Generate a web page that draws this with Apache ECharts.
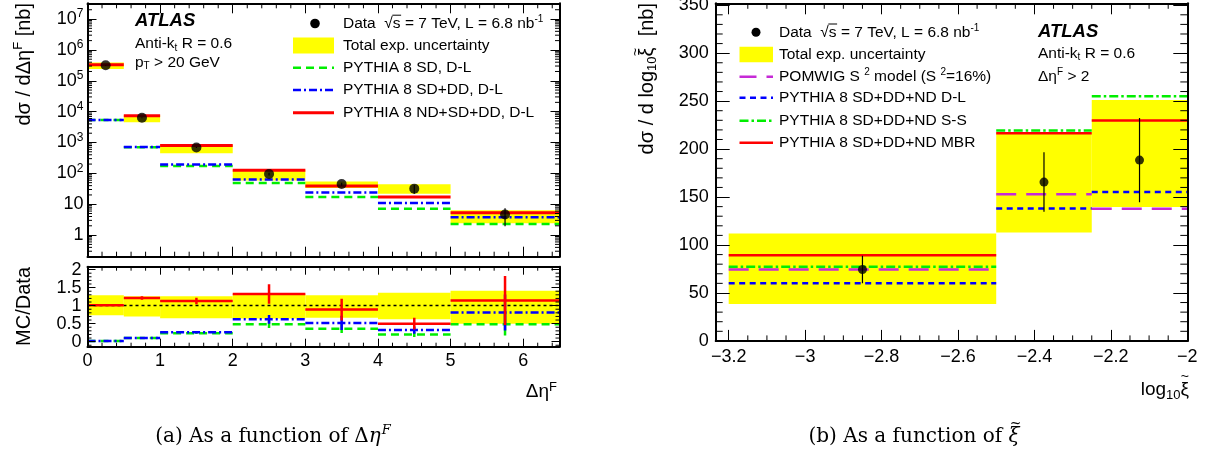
<!DOCTYPE html>
<html>
<head>
<meta charset="utf-8">
<script src="https://cdn.jsdelivr.net/npm/echarts@6/dist/echarts.min.js"></script>
<style>
  html, body { margin: 0; padding: 0; background: #fff; }
  #chart { width: 1210px; height: 457px; }
</style>
</head>
<body>
<div id="chart"></div>
<script>
// ---------- (a) cross section vs forward gap size ----------
const etaEdges     = [0, 0.5, 1, 2, 3, 4, 5, 6.5];
const etaData      = [3.2e5, 6300, 690, 95, 45, 32, 4.65];
const etaDataErr   = [5e3, 200, 30, 10, 5, 10, 2.7];
const etaUncLow    = [2.4e5, 4500, 452, 59, 33.6, 22, 2.4];
const etaUncHigh   = [3.9e5, 7800, 843, 132, 55, 44, 6.4];
const etaSD        = [5400, 700, 172, 49, 17.2, 7.1, 2.3];
const etaSDDD      = [5400, 710, 195, 63, 24, 11, 3.8];
const etaNDSDDD    = [3.3e5, 7400, 800, 125, 39, 17.2, 5.3];

// MC/Data ratio panel
const ratioUncLow   = [0.73, 0.70, 0.65, 0.64, 0.66, 0.62, 0.50];
const ratioUncHigh  = [1.29, 1.26, 1.26, 1.33, 1.29, 1.36, 1.41];
const ratioNDSDDD   = [1.01, 1.21, 1.13, 1.32, 0.89, 0.50, 1.14];
const ratioNDSDDDEr = [0.01, 0.05, 0.09, 0.27, 0.30, 0.16, 0.68];
const ratioSDDD     = [0.02, 0.10, 0.26, 0.62, 0.52, 0.32, 0.81];
const ratioSDDDEr   = [0.00, 0.01, 0.02, 0.12, 0.20, 0.10, 0.50];
const ratioSD       = [0.02, 0.10, 0.23, 0.48, 0.36, 0.20, 0.48];
const ratioSDEr     = [0.00, 0.01, 0.02, 0.10, 0.12, 0.07, 0.31];

// ---------- (b) cross section vs log10 xi ----------
const xiEdges   = [-3.2, -2.5, -2.25, -2];
const xiData    = [74.5, 165.6, 188.5];
const xiDataErr = [14.3, 31, 44];
const xiUncLow  = [38.4, 113, 139.5];
const xiUncHigh = [112.1, 217.2, 251.3];
const xiPomwig  = [74.5, 152.8, 137.8];
const xiDL      = [60.0, 138.1, 155.2];
const xiSS      = [77.2, 219.4, 255.1];
const xiMBR     = [89.4, 216.6, 229.8];

// ---------- tick values ----------
const etaTicks      = [0, 1, 2, 3, 4, 5, 6];
const etaMinor      = [];
for (let i = 0; i <= 32; i++) if (i % 5) etaMinor.push(i * 0.2);
const decadeTicks   = [0, 1, 2, 3, 4, 5, 6, 7];           // log10 of 1 ... 10^7
const decadeMinor   = [];
for (let d = -1; d <= 7; d++) for (let k = 2; k <= 9; k++) {
  const v = d + Math.log10(k);
  if (v > -0.70 && v < 7.51) decadeMinor.push(v);
}
const ratioTicks    = [0, 0.5, 1, 1.5, 2];
const ratioMinor    = [];
for (let i = -1; i <= 20; i++) if (i % 5) ratioMinor.push(i * 0.1);
const xiTicks       = [-3.2, -3, -2.8, -2.6, -2.4, -2.2, -2];
const xiMinor       = [];
for (let i = 0; i <= 24; i++) if (i % 4) xiMinor.push(-3.2 + i * 0.05);
const xsecTicks     = [0, 50, 100, 150, 200, 250, 300, 350];
const xsecMinor     = [];
for (let i = 0; i <= 35; i++) if (i % 5) xsecMinor.push(i * 10);

// ---------- helpers ----------
const FONT = 'Liberation Sans';
const SERIF = 'DejaVu Serif';
const lg = Math.log10;
const YELLOW = '#ffff00', RED = '#ff0000', GREEN = '#00ee00', BLUE = '#0000ff', MAGENTA = '#c62ad6';

// text measuring, used to put accents (tilde, radical bar) over single glyphs
const mctx = document.createElement('canvas').getContext('2d');
function tw(text, size, family, italic) {
  mctx.font = (italic ? 'italic ' : '') + size + 'px "' + (family || FONT) + '"';
  return mctx.measureText(text).width;
}

const binRows = (edges, vals, f) => vals.map((v, i) => [edges[i], edges[i + 1], f ? f(v) : v]);
const boxRows = (edges, lo, hi, f) => lo.map((v, i) => [edges[i], edges[i + 1], f ? f(v) : v, f ? f(hi[i]) : hi[i]]);
const centers = edges => edges.slice(0, -1).map((e, i) => (e + edges[i + 1]) / 2);

function segSeries(xi, yi, rows, style, z) {
  return {
    type: 'custom', xAxisIndex: xi, yAxisIndex: yi, z: z, silent: true, clip: true,
    data: rows, encode: { x: [0, 1], y: 2 },
    renderItem(p, api) {
      const a = api.coord([api.value(0), api.value(2)]);
      const b = api.coord([api.value(1), api.value(2)]);
      return { type: 'line', shape: { x1: a[0], y1: a[1], x2: b[0], y2: b[1] },
               style: Object.assign({ fill: null, lineCap: 'butt' }, style) };
    }
  };
}
function boxSeries(xi, yi, rows, z) {
  return {
    type: 'custom', xAxisIndex: xi, yAxisIndex: yi, z: z, silent: true, clip: true,
    data: rows, encode: { x: [0, 1], y: [2, 3] },
    renderItem(p, api) {
      const a = api.coord([api.value(0), api.value(3)]);
      const b = api.coord([api.value(1), api.value(2)]);
      return { type: 'rect', shape: { x: a[0], y: a[1], width: b[0] - a[0], height: b[1] - a[1] },
               style: { fill: YELLOW } };
    }
  };
}
function errSeries(xi, yi, rows, color, width, z) {
  return {
    type: 'custom', xAxisIndex: xi, yAxisIndex: yi, z: z, silent: true, clip: true,
    data: rows, encode: { x: 0, y: [1, 2] },
    renderItem(p, api) {
      const a = api.coord([api.value(0), api.value(1)]);
      const b = api.coord([api.value(0), api.value(2)]);
      return { type: 'line', shape: { x1: a[0], y1: a[1], x2: b[0], y2: b[1] },
               style: { stroke: color, lineWidth: width } };
    }
  };
}
// short inside ticks on both vertical frame edges
function yMinor(xi, yi, vals, xMin, xMax, len) {
  return {
    type: 'custom', xAxisIndex: xi, yAxisIndex: yi, z: 12, silent: true, clip: false,
    data: vals.map(v => [xMin, v]), encode: { x: 0, y: 1 },
    renderItem(p, api) {
      const l = api.coord([xMin, api.value(1)]);
      const r = api.coord([xMax, api.value(1)]);
      const st = { stroke: '#000', lineWidth: 1 };
      return { type: 'group', children: [
        { type: 'line', shape: { x1: l[0], y1: l[1], x2: l[0] + len, y2: l[1] }, style: st },
        { type: 'line', shape: { x1: r[0], y1: r[1], x2: r[0] - len, y2: r[1] }, style: st }
      ] };
    }
  };
}
// short inside ticks on both horizontal frame edges
function xMinor(xi, yi, vals, yMin, yMax, len) {
  return {
    type: 'custom', xAxisIndex: xi, yAxisIndex: yi, z: 12, silent: true, clip: false,
    data: vals.map(v => [v, yMin]), encode: { x: 0, y: 1 },
    renderItem(p, api) {
      const b = api.coord([api.value(0), yMin]);
      const t = api.coord([api.value(0), yMax]);
      const st = { stroke: '#000', lineWidth: 1 };
      return { type: 'group', children: [
        { type: 'line', shape: { x1: b[0], y1: b[1], x2: b[0], y2: b[1] - len }, style: st },
        { type: 'line', shape: { x1: t[0], y1: t[1], x2: t[0], y2: t[1] + len }, style: st }
      ] };
    }
  };
}

const frameLine = { show: true, onZero: false, lineStyle: { color: '#000', width: 2 } };
function axis(grid, pos, min, max, ticks, tickLen, label) {
  return {
    type: 'value', gridIndex: grid, position: pos, min: min, max: max, z: 10,
    axisLine: frameLine,
    axisTick: { show: true, inside: true, length: tickLen, customValues: ticks,
                lineStyle: { color: '#000', width: 1 } },
    axisLabel: label ? Object.assign({ show: true, customValues: ticks, color: '#000',
                fontFamily: FONT, fontSize: 18 }, label) : { show: false },
    splitLine: { show: false }, minorTick: { show: false }, minorSplitLine: { show: false }
  };
}

const ETA_MIN = 0, ETA_MAX = 6.5;
const LOG_MIN = -0.70, LOG_MAX = 7.51;
const R_MIN = -0.14, R_MAX = 2.08;
const XI_MIN = -3.234, XI_MAX = -2;
const XS_MIN = 0, XS_MAX = 352;

const minus = v => String(+v.toFixed(2)).replace('-', '\u2212');

const option = {
  animation: false,
  backgroundColor: '#fff',
  textStyle: { fontFamily: FONT },
  grid: [
    { left: 87.5, top: 3.3, width: 472, height: 253.4, outerBoundsMode: 'none', containLabel: false },
    { left: 87.5, top: 266.7, width: 472, height: 80, outerBoundsMode: 'none', containLabel: false },
    { left: 715.7, top: 3.3, width: 471.6, height: 337.6, outerBoundsMode: 'none', containLabel: false }
  ],
  xAxis: [
    axis(0, 'bottom', ETA_MIN, ETA_MAX, etaTicks, 10, null),
    axis(0, 'top', ETA_MIN, ETA_MAX, etaTicks, 10, null),
    axis(1, 'bottom', ETA_MIN, ETA_MAX, etaTicks, 8, { margin: 5 }),
    axis(1, 'top', ETA_MIN, ETA_MAX, etaTicks, 8, null),
    axis(2, 'bottom', XI_MIN, XI_MAX, xiTicks, 11, { margin: 7, formatter: minus }),
    axis(2, 'top', XI_MIN, XI_MAX, xiTicks, 11, null)
  ],
  yAxis: [
    axis(0, 'left', LOG_MIN, LOG_MAX, decadeTicks, 9, {
      margin: 4,
      formatter: v => v === 0 ? '1' : v === 1 ? '10' : '{b|10}{s|' + v + '}',
      rich: {
        b: { fontFamily: FONT, fontSize: 18, color: '#000' },
        s: { fontFamily: FONT, fontSize: 12, color: '#000', padding: [0, 0, 10, 0] }
      }
    }),
    axis(0, 'right', LOG_MIN, LOG_MAX, decadeTicks, 9, null),
    axis(1, 'left', R_MIN, R_MAX, ratioTicks, 8, { margin: 6 }),
    axis(1, 'right', R_MIN, R_MAX, ratioTicks, 8, null),
    axis(2, 'left', XS_MIN, XS_MAX, xsecTicks, 14, { margin: 7 }),
    axis(2, 'right', XS_MIN, XS_MAX, xsecTicks, 14, null)
  ],
  series: []
};

const S = option.series;
// --- panel (a) top ---
S.push(boxSeries(0, 0, boxRows(etaEdges, etaUncLow, etaUncHigh, lg), 1));
S.push(segSeries(0, 0, binRows(etaEdges, etaSD, lg), { stroke: GREEN, lineWidth: 2.5, lineDash: [8, 5] }, 3));
S.push(segSeries(0, 0, binRows(etaEdges, etaSDDD, lg), { stroke: BLUE, lineWidth: 2.5, lineDash: [8, 3, 2, 3] }, 4));
S.push(segSeries(0, 0, binRows(etaEdges, etaNDSDDD, lg), { stroke: RED, lineWidth: 3 }, 5));
S.push(errSeries(0, 0, centers(etaEdges).map((c, i) =>
  [c, lg(etaData[i] - etaDataErr[i]), lg(etaData[i] + etaDataErr[i])]), '#000', 1.2, 6));
S.push({ type: 'scatter', xAxisIndex: 0, yAxisIndex: 0, z: 7, silent: true, symbol: 'circle', symbolSize: 10,
         itemStyle: { color: '#000' }, data: centers(etaEdges).map((c, i) => [c, lg(etaData[i])]) });
S.push(yMinor(0, 0, decadeMinor, ETA_MIN, ETA_MAX, 4.5));
S.push(xMinor(0, 0, etaMinor, LOG_MIN, LOG_MAX, 5));

// --- panel (a) ratio ---
S.push(boxSeries(2, 2, boxRows(etaEdges, ratioUncLow, ratioUncHigh), 1));
S.push(segSeries(2, 2, [[ETA_MIN, ETA_MAX, 1]], { stroke: '#000', lineWidth: 1.5, lineDash: [3, 3] }, 2));
const ratioSets = [
  [ratioSD, ratioSDEr, GREEN, [8, 5], 3],
  [ratioSDDD, ratioSDDDEr, BLUE, [8, 3, 2, 3], 4],
  [ratioNDSDDD, ratioNDSDDDEr, RED, null, 5]
];
ratioSets.forEach(([vals, errs, col, dash, z]) => {
  S.push(segSeries(2, 2, binRows(etaEdges, vals), { stroke: col, lineWidth: 2.5, lineDash: dash }, z));
  S.push(errSeries(2, 2, centers(etaEdges).map((c, i) => [c, vals[i] - errs[i], vals[i] + errs[i]]), col, 2.5, z));
});
S.push(yMinor(2, 2, ratioMinor, ETA_MIN, ETA_MAX, 4));
S.push(xMinor(2, 2, etaMinor, R_MIN, R_MAX, 4));

// --- panel (b) ---
S.push(boxSeries(4, 4, boxRows(xiEdges, xiUncLow, xiUncHigh), 1));
S.push(segSeries(4, 4, binRows(xiEdges, xiDL), { stroke: BLUE, lineWidth: 2.5, lineDash: [6, 4.5] }, 3));
S.push(segSeries(4, 4, binRows(xiEdges, xiPomwig), { stroke: MAGENTA, lineWidth: 2.5, lineDash: [20, 10] }, 4));
S.push(segSeries(4, 4, binRows(xiEdges, xiSS), { stroke: GREEN, lineWidth: 2.5, lineDash: [9, 3, 2.5, 3] }, 5));
S.push(segSeries(4, 4, binRows(xiEdges, xiMBR), { stroke: RED, lineWidth: 2.5 }, 6));
S.push(errSeries(4, 4, centers(xiEdges).map((c, i) =>
  [c, xiData[i] - xiDataErr[i], xiData[i] + xiDataErr[i]]), '#000', 1.2, 7));
S.push({ type: 'scatter', xAxisIndex: 4, yAxisIndex: 4, z: 8, silent: true, symbol: 'circle', symbolSize: 9,
         itemStyle: { color: '#000' }, data: centers(xiEdges).map((c, i) => [c, xiData[i]]) });
S.push(yMinor(4, 4, xsecMinor, XI_MIN, XI_MAX, 7));
S.push(xMinor(4, 4, xiMinor, XS_MIN, XS_MAX, 5.5));

// ---------- text: labels, legends, titles, captions ----------
function rich(size) {
  return {
    sup: { fontFamily: FONT, fontSize: Math.round(size * 0.66), fill: '#000', padding: [0, 0, Math.round(size * 0.55), 0] },
    sub: { fontFamily: FONT, fontSize: Math.round(size * 0.66), fill: '#000', padding: [Math.round(size * 0.5), 0, 0, 0] },
    bi:  { fontFamily: FONT, fontSize: size, fontWeight: 'bold', fontStyle: 'italic', fill: '#000' }
  };
}
function txt(x, y, text, size, opts) {
  opts = opts || {};
  return {
    type: 'text', x: x, y: y, rotation: opts.rot || 0, z: 50, silent: true,
    style: Object.assign({ text: text, fontFamily: FONT, fontSize: size, fill: '#000',
      align: opts.align || 'left', verticalAlign: 'middle', rich: rich(size) }, opts.style || {})
  };
}
function keyLine(x, y, w, color, dash, width) {
  return { type: 'line', z: 50, silent: true,
           shape: { x1: x, y1: y, x2: x + w, y2: y },
           style: { stroke: color, lineWidth: width, lineDash: dash || null, lineCap: 'butt' } };
}
function bar(x1, y1, x2, y2) {
  return { type: 'line', z: 50, silent: true, shape: { x1, y1, x2, y2 }, style: { stroke: '#000', lineWidth: 1 } };
}
// small tilde accent, centred on (x, y)
function tilde(x, y, size, rot) {
  return { type: 'text', x: x, y: y, rotation: rot || 0, z: 51, silent: true,
           style: { text: '~', fontFamily: FONT, fontSize: size, fill: '#000', align: 'center', verticalAlign: 'middle' } };
}

const LG = 15.5;
const XI = '\u03BE';

// positions of accented glyphs
const dataA = 'Data  \u221A';
const sA = 343 + tw(dataA, LG), sB = 779 + tw(dataA, LG), sW = tw('s', LG);
// x title of (b): right aligned at 1189
const xiTitleX = 1189 - tw(XI, 19) / 2;
// y title of (b): rotated, ends at y=3
const yTitleTail = '  [nb]';
const xiYTitleY = 3 + tw(yTitleTail, 20) + tw(XI, 20) / 2;
// caption (b): centred at 914
const capPre = '(b) As a function of ';
const capW = tw(capPre, 20, SERIF) + tw(XI, 20, SERIF, true);
const capXi = 914 - capW / 2 + tw(capPre, 20, SERIF) + tw(XI, 20, SERIF, true) / 2;

const graphics = [
  // (a) labels
  txt(135, 20.5, '{bi|ATLAS}', 18.5),
  txt(135, 44, 'Anti-k{sub|t} R = 0.6', LG),
  txt(135, 62.5, 'p{sub|T} > 20 GeV', LG),
  // (a) legend
  { type: 'circle', z: 50, silent: true, shape: { cx: 315, cy: 23.5, r: 4.8 }, style: { fill: '#000' } },
  txt(343, 23.5, 'Data  \u221As = 7 TeV, L = 6.8 nb{sup|-1}', LG),
  bar(sA - 0.5, 15.2, sA + sW + 0.5, 15.2),
  { type: 'rect', z: 50, silent: true, shape: { x: 293, y: 37.5, width: 41, height: 16 }, style: { fill: YELLOW } },
  txt(343, 45.5, 'Total exp. uncertainty', LG),
  keyLine(293, 67.7, 41, GREEN, [8, 5], 2.5),
  txt(343, 67.7, 'PYTHIA 8 SD, D-L', LG),
  keyLine(293, 90, 41, BLUE, [8, 3, 2, 3], 2.5),
  txt(343, 90, 'PYTHIA 8 SD+DD, D-L', LG),
  keyLine(293, 112.7, 41, RED, null, 3),
  txt(343, 112.7, 'PYTHIA 8 ND+SD+DD, D-L', LG),
  // (a) axis titles
  txt(24, 3, 'd\u03C3 / d\u0394\u03B7{sup|F} [nb]', 20, { rot: Math.PI / 2, align: 'right' }),
  txt(24, 267, 'MC/Data', 20, { rot: Math.PI / 2, align: 'right' }),
  txt(557, 392, '\u0394\u03B7{sup|F}', 19, { align: 'right' }),
  // (b) labels
  txt(1038, 31.5, '{bi|ATLAS}', 18.5),
  txt(1038, 53.5, 'Anti-k{sub|t} R = 0.6', LG),
  txt(1038, 76.5, '\u0394\u03B7{sup|F} > 2', LG),
  // (b) legend
  { type: 'circle', z: 50, silent: true, shape: { cx: 756, cy: 32.3, r: 4.5 }, style: { fill: '#000' } },
  txt(779, 32.3, 'Data  \u221As = 7 TeV, L = 6.8 nb{sup|-1}', LG),
  bar(sB - 0.5, 24, sB + sW + 0.5, 24),
  { type: 'rect', z: 50, silent: true, shape: { x: 739.5, y: 46.7, width: 33.5, height: 15.6 }, style: { fill: YELLOW } },
  txt(779, 54.5, 'Total exp. uncertainty', LG),
  keyLine(739.5, 76.7, 33.5, MAGENTA, [17, 10], 2.5),
  txt(779, 76.7, 'POMWIG S {sup|2} model (S {sup|2}=16%)', LG),
  keyLine(739.5, 97.7, 33.5, BLUE, [6, 4.5], 2.5),
  txt(779, 97.7, 'PYTHIA 8 SD+DD+ND D-L', LG),
  keyLine(739.5, 120.7, 33.5, GREEN, [9, 3, 2.5, 3], 2.5),
  txt(779, 120.7, 'PYTHIA 8 SD+DD+ND S-S', LG),
  keyLine(739.5, 142.7, 33.5, RED, null, 2.5),
  txt(779, 142.7, 'PYTHIA 8 SD+DD+ND MBR', LG),
  // (b) axis titles
  txt(647, 3, 'd\u03C3 / d log{sub|10}' + XI + yTitleTail, 20, { rot: Math.PI / 2, align: 'right' }),
  tilde(636, xiYTitleY, 14, Math.PI / 2),
  txt(1189, 390, 'log{sub|10}' + XI, 19, { align: 'right' }),
  tilde(xiTitleX, 377.5, 14),
  // captions
  {
    type: 'text', x: 273, y: 437, z: 50, silent: true,
    style: { text: '(a) As a function of \u0394{it|\u03B7}{sup|F}', fontFamily: SERIF, fontSize: 20, fill: '#000',
      align: 'center', verticalAlign: 'middle',
      rich: {
        it: { fontFamily: SERIF, fontSize: 20, fontStyle: 'italic', fill: '#000' },
        sup: { fontFamily: SERIF, fontSize: 13, fontStyle: 'italic', fill: '#000', padding: [0, 0, 12, 1] }
      } }
  },
  {
    type: 'text', x: 914, y: 437, z: 50, silent: true,
    style: { text: capPre + '{it|' + XI + '}', fontFamily: SERIF, fontSize: 20, fill: '#000',
      align: 'center', verticalAlign: 'middle',
      rich: { it: { fontFamily: SERIF, fontSize: 20, fontStyle: 'italic', fill: '#000' } } }
  },
  { type: 'text', x: capXi + 1.5, y: 424, z: 51, silent: true,
    style: { text: '~', fontFamily: SERIF, fontSize: 14, fill: '#000', align: 'center', verticalAlign: 'middle' } }
];
option.graphic = { elements: graphics };

const chart = echarts.init(document.getElementById('chart'), null, { renderer: 'canvas' });
chart.setOption(option);
</script>
</body>
</html>
